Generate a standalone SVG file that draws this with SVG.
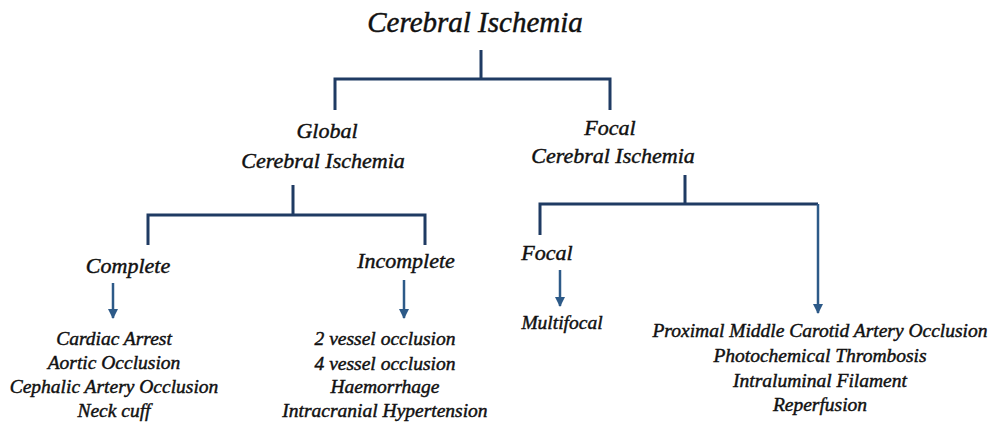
<svg xmlns="http://www.w3.org/2000/svg" width="992" height="428" viewBox="0 0 992 428">
<defs>
<style>
text{font-family:"Liberation Serif","DejaVu Serif",serif;font-style:italic;fill:#111;stroke:#111;stroke-width:0.45;text-anchor:middle}
.t0{font-size:29px}
.t1{font-size:22px}
.t2{font-size:22px}
.t3{font-size:19.5px}
.ln{stroke:#1f3b63;stroke-width:3;fill:none}
.ar{stroke:#2d5a88;stroke-width:2.5;fill:none}
</style>
<marker id="ah" viewBox="0 0 10 10" refX="9" refY="5" markerWidth="4" markerHeight="4" orient="auto" markerUnits="strokeWidth">
<path d="M0,0 L10,5 L0,10 z" fill="#2d5a88"/>
</marker>
</defs>
<rect width="992" height="428" fill="#fff"/>
<g id="connectors">
<path class="ln" d="M481,50 V79 M335,110 V79 H610 V110"/>
<path class="ln" d="M293,185 V215 M148,245 V215 H425 V245"/>
<path class="ln" d="M685,175 V204 M540,235 V204 H818"/>
<path class="ar" d="M818,204 V313" marker-end="url(#ah)"/>
<path class="ar" d="M113,283 V318" marker-end="url(#ah)"/>
<path class="ar" d="M404,280 V318" marker-end="url(#ah)"/>
<path class="ar" d="M560,270 V306" marker-end="url(#ah)"/>
</g>
<g id="root"><text class="t0" x="475" y="32">Cerebral Ischemia</text></g>
<g id="global"><text class="t1" x="327" y="138">Global</text><text class="t1" x="323" y="168">Cerebral Ischemia</text></g>
<g id="focal"><text class="t1" x="610" y="135">Focal</text><text class="t1" x="613" y="163">Cerebral Ischemia</text></g>
<g id="complete"><text class="t2" x="128" y="273">Complete</text></g>
<g id="incomplete"><text class="t2" x="406" y="268">Incomplete</text></g>
<g id="focal2"><text class="t2" x="547" y="260">Focal</text></g>
<g id="complete-list">
<text class="t3" x="114" y="345">Cardiac Arrest</text>
<text class="t3" x="114" y="369">Aortic Occlusion</text>
<text class="t3" x="114" y="393">Cephalic Artery Occlusion</text>
<text class="t3" x="114" y="417">Neck cuff</text>
</g>
<g id="incomplete-list">
<text class="t3" x="385" y="345">2 vessel occlusion</text>
<text class="t3" x="385" y="370">4 vessel  occlusion</text>
<text class="t3" x="385" y="393">Haemorrhage</text>
<text class="t3" x="385" y="417">Intracranial Hypertension</text>
</g>
<g id="multifocal"><text class="t3" x="562" y="329">Multifocal</text></g>
<g id="focal-list">
<text class="t3" x="820" y="337">Proximal Middle Carotid Artery Occlusion</text>
<text class="t3" x="820" y="362">Photochemical Thrombosis</text>
<text class="t3" x="820" y="387">Intraluminal Filament</text>
<text class="t3" x="820" y="411">Reperfusion</text>
</g>
</svg>
